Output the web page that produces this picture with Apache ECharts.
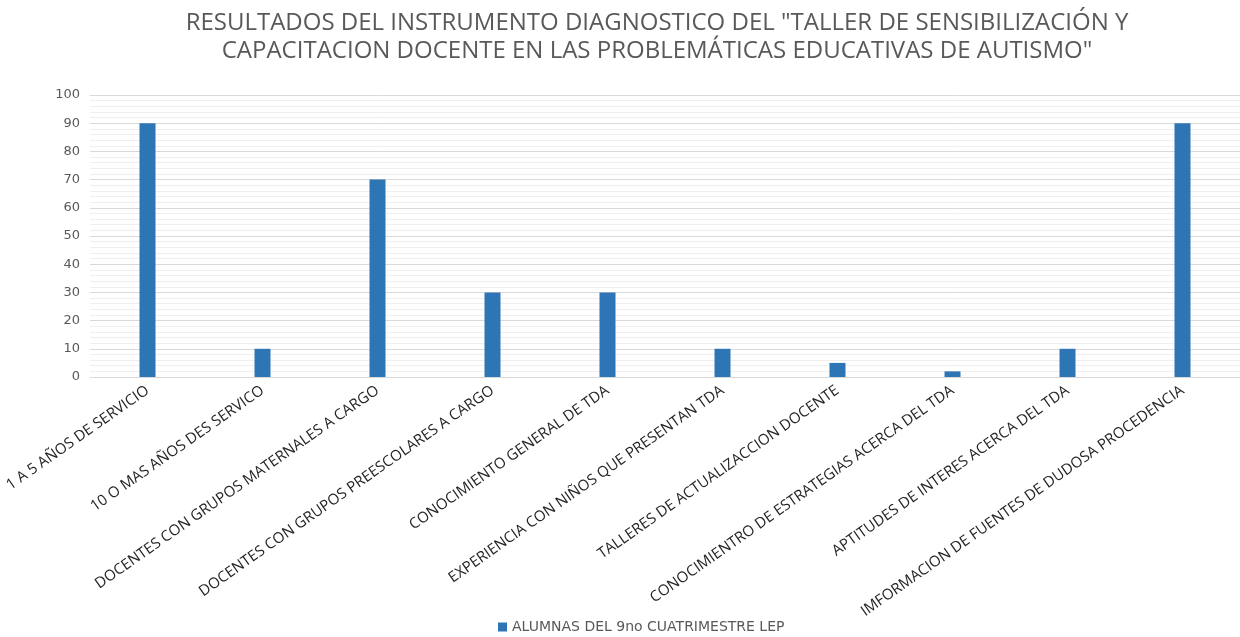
<!DOCTYPE html>
<html lang="es">
<head>
    <meta charset="UTF-8">
    <title>Resultados del instrumento diagnostico</title>
    <script src="https://cdn.jsdelivr.net/npm/echarts@6/dist/echarts.min.js"></script>
    <style>
        *{margin:0;padding:0;}
        html,body{width:100%;height:100%;overflow:hidden;background:#fff;}
        .box{width:1240px;height:637px;}
    </style>
</head>
<body>
<div class="box"></div>
<script>
    // datos
    let categorias = [
        '1 A 5 AÑOS DE SERVICIO',
        '10 O MAS AÑOS DES SERVICO',
        'DOCENTES CON GRUPOS MATERNALES A CARGO',
        'DOCENTES CON GRUPOS PREESCOLARES A CARGO',
        'CONOCIMIENTO GENERAL DE TDA',
        'EXPERIENCIA CON NIÑOS QUE PRESENTAN TDA',
        'TALLERES DE ACTUALIZACCION DOCENTE',
        'CONOCIMIENTRO DE ESTRATEGIAS ACERCA DEL TDA',
        'APTITUDES DE INTERES ACERCA DEL TDA',
        'IMFORMACION DE FUENTES DE DUDOSA PROCEDENCIA'
    ];
    let valores = [90, 10, 70, 30, 30, 10, 5, 2, 10, 90];
    let serieNombre = 'ALUMNAS DEL 9no CUATRIMESTRE LEP';
    let titulo = 'RESULTADOS DEL INSTRUMENTO DIAGNOSTICO DEL "TALLER DE SENSIBILIZACIÓN Y\nCAPACITACION DOCENTE EN LAS PROBLEMÁTICAS EDUCATIVAS DE AUTISMO"';

    let myChart = echarts.init(document.querySelector('.box'));

    let option = {
        animation: false,
        title: {
            text: titulo,
            left: 652,
            textAlign: 'center',
            top: 4,
            textStyle: {
                color: '#595959',
                fontSize: 24,
                fontWeight: 'normal',
                fontFamily: '"Open Sans", sans-serif',
                lineHeight: 28
            }
        },
        grid: {
            left: 90,
            right: 0,
            top: 95,
            bottom: 260,
            outerBoundsMode: 'none'
        },
        legend: {
            data: [serieNombre],
            left: 498,
            top: 620,
            padding: 0,
            itemWidth: 9,
            itemHeight: 9,
            icon: 'rect',
            itemGap: 5,
            textStyle: {
                color: '#595959',
                fontSize: 14,
                lineHeight: 14,
                fontFamily: '"DejaVu Sans", sans-serif'
            }
        },
        xAxis: {
            type: 'category',
            data: categorias,
            axisTick: {show: false},
            axisLine: {lineStyle: {color: '#d9d9d9'}},
            axisLabel: {
                interval: 0,
                rotate: 35,
                margin: 12,
                color: '#262626',
                fontSize: 15,
                fontFamily: '"Open Sans", sans-serif'
            }
        },
        yAxis: {
            type: 'value',
            min: 0,
            max: 100,
            interval: 10,
            axisLine: {show: false},
            axisTick: {show: false},
            axisLabel: {
                color: '#595959',
                fontSize: 13,
                margin: 10,
                fontFamily: '"DejaVu Sans", sans-serif'
            },
            splitLine: {lineStyle: {color: '#d9d9d9'}},
            minorTick: {show: false, splitNumber: 5},
            minorSplitLine: {show: true, lineStyle: {color: '#efefef'}}
        },
        series: [{
            name: serieNombre,
            type: 'bar',
            data: valores,
            barWidth: 16,
            itemStyle: {color: '#2e75b6'}
        }]
    };

    myChart.setOption(option);
</script>
</body>
</html>
